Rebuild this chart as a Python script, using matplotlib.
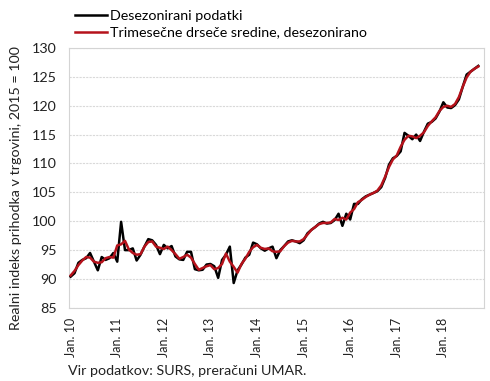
"""
Real retail trade turnover index, seasonally adjusted, with 3-month moving average.
"""

import matplotlib.pyplot as plt
import numpy as np

plt.rcParams["font.family"] = ["Lato", "DejaVu Sans"]

# monthly, Jan 2010 .. Oct 2018
desezonirani = [
    90.4, 91.0, 92.8, 93.3, 93.6, 94.5, 93.0, 91.5, 93.8, 93.3,
    93.6, 94.5, 93.0, 99.9, 95.0, 95.0, 95.3, 93.2, 94.2, 95.6,
    96.9, 96.7, 95.9, 94.3, 95.9, 95.3, 95.7, 93.9, 93.4, 93.3,
    94.7, 94.7, 91.7, 91.5, 91.6, 92.5, 92.6, 92.2, 90.2, 93.3,
    94.2, 95.6, 89.3, 91.5, 92.5, 93.7, 94.2, 96.3, 96.0, 95.3,
    94.9, 95.3, 95.6, 93.6, 95.0, 95.7, 96.5, 96.7, 96.5, 96.2,
    96.7, 97.9, 98.5, 99.0, 99.6, 99.9, 99.6, 99.7, 100.2, 101.3,
    99.2, 101.3, 100.3, 103.0, 103.0, 103.8, 104.3, 104.6, 104.9, 105.2,
    105.9, 107.5, 109.8, 110.9, 111.3, 112.1, 115.3, 114.8, 114.2, 115.0,
    113.9, 115.5, 116.9, 117.2, 117.8, 119.0, 120.6, 119.7, 119.6, 120.1,
    121.1, 123.3, 125.4, 125.9, 126.4, 126.9,
]
trimesecne = [
    90.6, 91.4, 92.4, 93.2, 93.8, 93.7, 93.0, 92.8, 92.9, 93.6,
    93.8, 93.7, 95.8, 96.0, 96.6, 95.1, 94.5, 94.2, 94.3, 95.6,
    96.4, 96.5, 95.6, 95.4, 95.2, 95.6, 95.0, 94.3, 93.5, 93.8,
    94.2, 93.7, 92.6, 91.6, 91.9, 92.2, 92.4, 91.7, 91.9, 92.6,
    94.4, 93.0, 92.1, 91.1, 92.6, 93.5, 94.7, 95.5, 95.9, 95.4,
    95.2, 95.3, 94.8, 94.7, 94.8, 95.7, 96.3, 96.6, 96.5, 96.5,
    96.9, 97.7, 98.5, 99.0, 99.5, 99.7, 99.7, 99.8, 100.4, 100.2,
    100.6, 100.3, 101.5, 102.1, 103.3, 103.7, 104.2, 104.6, 104.9, 105.3,
    106.2, 107.7, 109.4, 110.7, 111.4, 112.9, 114.1, 114.8, 114.7, 114.4,
    114.8, 115.4, 116.5, 117.3, 118.0, 119.1, 119.8, 120.0, 119.8, 120.3,
    121.5, 123.3, 124.9, 125.9, 126.4, 126.8,
]
tick_labels = ["Jan. 10", "Jan. 11", "Jan. 12", "Jan. 13", "Jan. 14",
               "Jan. 15", "Jan. 16", "Jan. 17", "Jan. 18"]

months = np.arange(len(desezonirani))
fs = 10.3
txt = "#222222"

fig = plt.figure(figsize=(4.9, 3.81), dpi=100)
ax = fig.add_axes([0.141, 0.192, 0.847, 0.682])

ax.plot(months, desezonirani, color="black", lw=1.8,
        label="Desezonirani podatki", zorder=3)
ax.plot(months, trimesecne, color="#B5121B", lw=1.8,
        label="Trimesečne drseče sredine, desezonirano", zorder=4)

ax.set_xlim(-0.4, 106.5)
ax.set_ylim(85, 130)
ax.set_yticks(np.arange(85, 131, 5))
ax.set_xticks(np.arange(len(tick_labels)) * 12)
ax.set_xticklabels(tick_labels, rotation=90)
ax.tick_params(length=0, colors=txt)
ax.tick_params(axis="y", pad=9, labelsize=fs)
ax.tick_params(axis="x", pad=7, labelsize=9)
ax.grid(axis="y", color="#d9d9d9", lw=0.8, ls=(0, (2, 1)))
ax.set_axisbelow(True)
for sp in ax.spines.values():
    sp.set_color("#d4d4d4")
    sp.set_linewidth(0.8)

ax.set_ylabel("Realni indeks prihodka v trgovini, 2015 = 100",
              fontsize=fs, color=txt)
ax.yaxis.set_label_coords(-0.113, 0.46)

fig.legend(loc="upper left", bbox_to_anchor=(0.142, 0.99), frameon=False,
           fontsize=fs, handlelength=2.2, handletextpad=0.25,
           labelspacing=0.35, borderaxespad=0)

fig.text(0.139, 0.016, "Vir podatkov: SURS, preračuni UMAR.",
         fontsize=fs, color=txt)

fig.savefig("out.png", dpi=100)
